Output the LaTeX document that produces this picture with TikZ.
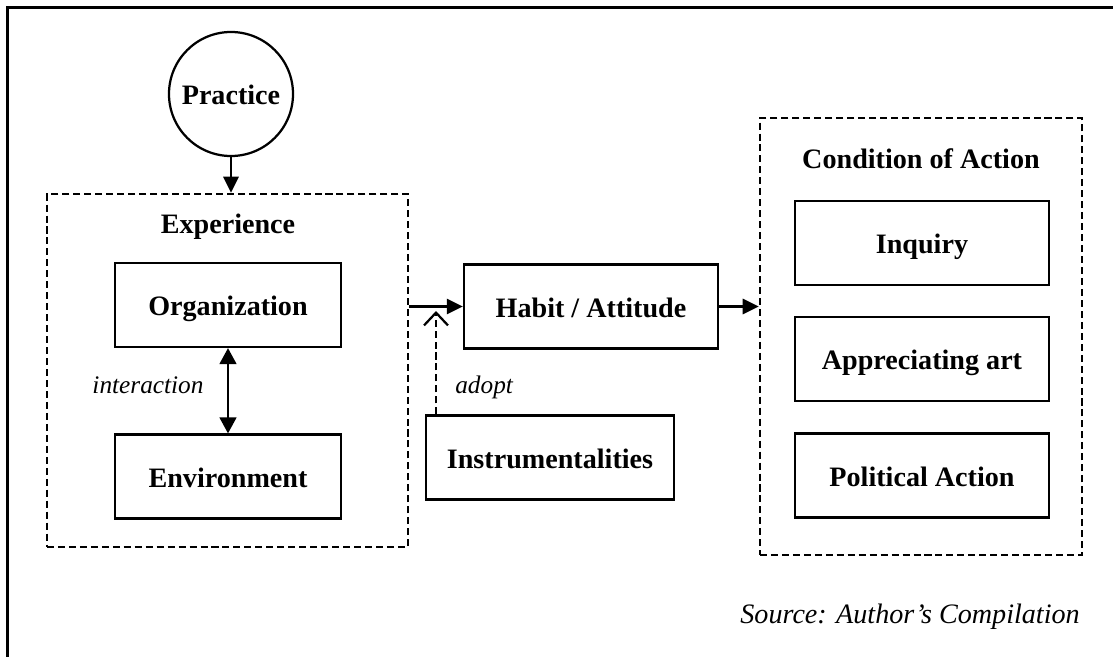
\documentclass[tikz,border=0pt]{standalone}
\usepackage{fontspec}
\setmainfont{Liberation Serif}
\usetikzlibrary{arrows.meta,positioning}

\tikzset{
  box/.style={draw, line width=1.6pt, minimum height=2.1cm, inner sep=0pt,
    font=\fontsize{20}{24}\selectfont\bfseries, text height=18pt, text depth=3pt},
  group/.style={draw, line width=1.8pt, dash pattern=on 5pt off 2.8pt, inner sep=0pt},
  title/.style={font=\fontsize{20}{24}\selectfont\bfseries, anchor=base, inner sep=0pt},
  note/.style={font=\fontsize{18}{22}\selectfont\itshape, inner sep=0pt},
  arr/.style={line width=1.6pt, -{Triangle[length=0.4cm, width=0.38cm]}},
}

\begin{document}
\begin{tikzpicture}[x=0.025cm, y=-0.025cm]
  \useasboundingbox (0,0) rectangle (1113,657);
  % frame, only its left and top edge show
  \draw[line width=2pt] (7.5,657) -- (7.5,7.5) -- (1113,7.5);

  % 1) Practice and experience
  \node[circle, draw, line width=1.6pt, minimum size=3.1cm, inner sep=0pt,
    font=\fontsize{20}{24}\selectfont\bfseries, text height=18pt, text depth=3pt] (prac) at (231,94) {Practice};
  \node[group, minimum width=9.025cm, minimum height=8.825cm] (exp) at (227.5,370.5) {};
  \node[title] (expt) at (228,233) {Experience};
  \node[box, minimum width=5.65cm] (org) at (228,305) {Organization};
  \node[box, minimum width=5.65cm] (env) at (228,476.5) {Environment};
  \node[note, anchor=base] (inter) at (148,393) {interaction};
  \draw[arr] (prac.south) -- (prac.south |- exp.north);
  \draw[line width=1.6pt, {Triangle[length=0.4cm, width=0.42cm]}-{Triangle[length=0.4cm, width=0.42cm]}] (org) -- (env);

  % 2) Habit and instrumentalities
  \node[box, minimum width=6.35cm] (habit) at (591,306.5) {Habit / Attitude};
  \node[box, minimum width=6.2cm] (instr) at (550,457.5) {Instrumentalities};
  \node[note, anchor=base west] (adopt) at (455,393) {adopt};
  \coordinate (meet) at (436,311);
  \draw[arr] (exp.east |- habit.west) -- (habit.west);
  \draw[line width=1.6pt, dash pattern=on 5pt off 2.8pt, -{Straight Barb[length=0.32cm, width=0.6cm]}] (instr.north -| meet) -- (meet);

  % 3) Condition of action
  \node[group, minimum width=8.05cm, minimum height=10.925cm] (cond) at (921,336.5) {};
  \node[title] (condt) at (921,168) {Condition of Action};
  \node[box, minimum width=6.35cm] (inq) at (922,243) {Inquiry};
  \node[box, minimum width=6.35cm] (art) at (922,359) {Appreciating art};
  \node[box, minimum width=6.35cm] (pol) at (922,475.5) {Political Action};
  \draw[arr] (habit.east) -- (habit.east -| cond.west);

  \node[anchor=base east, inner sep=0pt, font=\fontsize{20}{24}\selectfont\itshape] (src) at (1080,623) {Source: Author's Compilation};
\end{tikzpicture}
\end{document}
